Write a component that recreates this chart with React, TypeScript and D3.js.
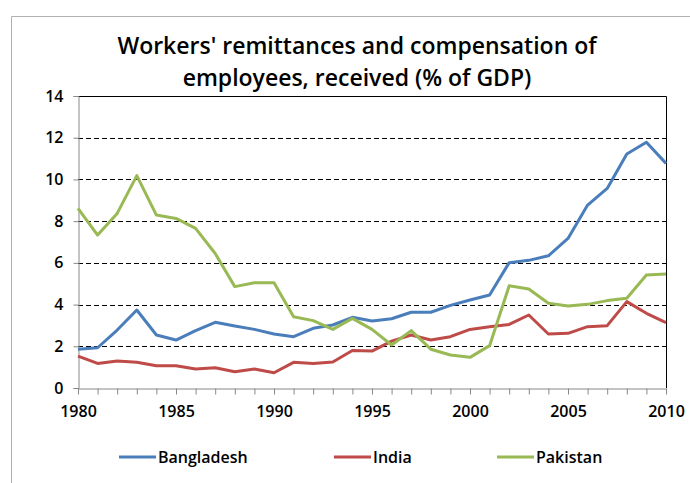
import React, { useEffect, useRef } from 'react';
import * as d3 from 'd3';

const years = d3.range(1980, 2011);
const bangladesh = [1.86, 1.93, 2.78, 3.74, 2.54, 2.3, 2.75, 3.15, 2.97, 2.81, 2.59, 2.46, 2.86, 3.02, 3.39, 3.21, 3.32, 3.63, 3.63, 3.96, 4.22, 4.46, 6.01, 6.12, 6.34, 7.17, 8.77, 9.57, 11.22, 11.78, 10.77];
const india = [1.53, 1.18, 1.29, 1.23, 1.07, 1.07, 0.91, 0.97, 0.78, 0.91, 0.73, 1.23, 1.18, 1.25, 1.8, 1.77, 2.25, 2.54, 2.3, 2.46, 2.81, 2.94, 3.05, 3.5, 2.59, 2.62, 2.94, 2.99, 4.14, 3.58, 3.13];
const pakistan = [8.61, 7.33, 8.37, 10.18, 8.29, 8.13, 7.65, 6.45, 4.86, 5.05, 5.05, 3.42, 3.23, 2.81, 3.34, 2.81, 2.06, 2.75, 1.86, 1.58, 1.47, 2.03, 4.9, 4.75, 4.06, 3.93, 4.01, 4.19, 4.3, 5.42, 5.47];
const seriesNames = ['Bangladesh', 'India', 'Pakistan'];
const colors = ['#4a7ebb', '#be4b48', '#98b954'];
const yTicks = [0, 2, 4, 6, 8, 10, 12, 14];
const xLabels = [1980, 1985, 1990, 1995, 2000, 2005, 2010];

const App = () => {
  const ref = useRef<SVGSVGElement>(null);

  useEffect(() => {
    const svg = d3.select(ref.current);
    svg.selectAll('*').remove();
    const font = "'Open Sans', sans-serif";

    const x = d3.scaleLinear().domain([1980, 2010]).range([78, 666]);
    const y = d3.scaleLinear().domain([0, 14]).range([388, 96]);

    // outer frame
    svg.append('path')
      .attr('d', 'M11.5,483 V16.5 H690')
      .attr('fill', 'none')
      .attr('stroke', '#b0b0b0')
      .attr('stroke-width', 1);

    // title
    const title = svg.append('text')
      .attr('text-anchor', 'middle')
      .style('font-family', font)
      .style('font-size', '23px')
      .style('font-weight', 600)
      .attr('fill', '#000');
    title.append('tspan').attr('x', 357).attr('y', 54).text("Workers' remittances and compensation of");
    title.append('tspan').attr('x', 357).attr('y', 86).text('employees, received (% of GDP)');

    // grid lines
    svg.append('g').selectAll('line')
      .data(yTicks.filter(d => d > 0 && d < 14))
      .enter().append('line')
      .attr('x1', x(1980)).attr('x2', x(2010))
      .attr('y1', d => Math.round(y(d)) + 0.5).attr('y2', d => Math.round(y(d)) + 0.5)
      .attr('stroke', '#000')
      .attr('stroke-dasharray', '5,3');

    // plot top & right border
    svg.append('path')
      .attr('d', `M${x(1980)},${Math.round(y(14)) + 0.5} H${x(2010) + 0.5} V${y(0)}`)
      .attr('fill', 'none')
      .attr('stroke', '#000');

    // y axis
    const yAxis = svg.append('g')
      .attr('transform', `translate(${x(1980) + 0.5},0)`)
      .call(d3.axisLeft(y).tickValues(yTicks).tickSize(5).tickPadding(10));
    yAxis.select('.domain').attr('stroke', '#888');
    yAxis.selectAll('.tick line').attr('stroke', '#888');
    yAxis.selectAll('text')
      .style('font-family', font)
      .style('font-size', '16px')
      .style('font-weight', 600)
      .attr('fill', '#000');

    // x axis
    const xAxis = svg.append('g')
      .attr('transform', `translate(0,${Math.round(y(0)) + 0.5})`)
      .call(d3.axisBottom(x).tickValues(years).tickSize(6).tickFormat(d => xLabels.includes(+d) ? String(d) : '').tickPadding(11).tickSizeOuter(0));
    xAxis.select('.domain').attr('stroke', '#888');
    xAxis.selectAll('.tick line').attr('stroke', '#888');
    xAxis.selectAll('text')
      .style('font-family', font)
      .style('font-size', '16px')
      .style('font-weight', 600)
      .attr('fill', '#000');

    // lines
    const allSeries = [bangladesh, india, pakistan];
    const line = d3.line<number>()
      .x((_, i) => x(years[i]))
      .y(d => y(d));
    allSeries.forEach((s, i) => {
      svg.append('path')
        .datum(s)
        .attr('d', line)
        .attr('fill', 'none')
        .attr('stroke', colors[i])
        .attr('stroke-width', 3)
        .attr('stroke-linejoin', 'round');
    });

    // legend
    const legendX = [119, 334, 497];
    seriesNames.forEach((name, i) => {
      svg.append('line')
        .attr('x1', legendX[i]).attr('x2', legendX[i] + 37)
        .attr('y1', 457).attr('y2', 457)
        .attr('stroke', colors[i])
        .attr('stroke-width', 3);
      svg.append('text')
        .attr('x', legendX[i] + 39)
        .attr('y', 463)
        .text(name)
        .style('font-family', font)
        .style('font-size', '16px')
        .style('font-weight', 600)
        .attr('fill', '#000');
    });
  }, []);

  return (
    <svg ref={ref} width={690} height={483} style={{ position: 'absolute', left: 0, top: 0, background: '#fff' }} />
  );
};

export default App;
